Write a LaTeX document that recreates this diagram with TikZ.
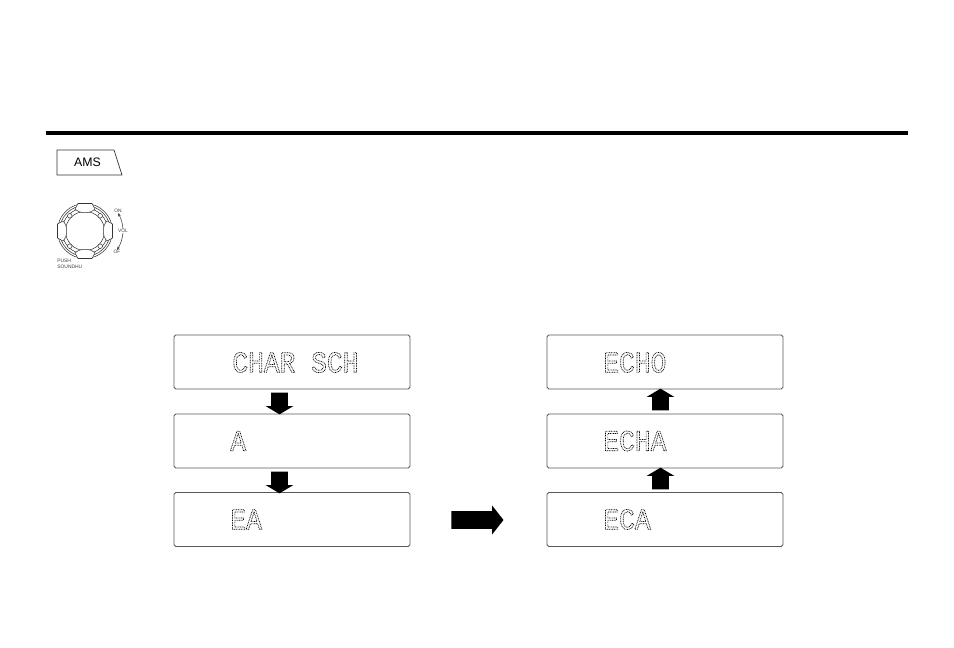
\documentclass[tikz,border=0pt]{standalone}
\usepackage{fontspec}
\setmainfont{Liberation Sans}
\newfontfamily\lcdfont[FakeStretch=0.88]{Liberation Mono}
\usetikzlibrary{shapes.arrows,arrows.meta}
% thin dotted outline for the display letters
\newcommand{\lcdtext}[1]{\special{pdf:code 1 Tr 0.4 w [0.5 0.45] 0 d}#1\special{pdf:code 0 Tr [] 0 d}}
\tikzset{
  lcdbox/.style = {draw=black!65, line width=0.5pt, rounded corners=1pt, minimum width=4.72cm, minimum height=1.08cm, inner sep=0pt},
  lcdchars/.style = {anchor=west, inner sep=0pt, font=\lcdfont\fontsize{17}{17}\selectfont, text=black},
  fatarrow/.style = {single arrow, draw=none, fill=black, inner sep=0.16cm, single arrow head extend=0.11cm, minimum height=0.36cm, single arrow tip angle=118},
  tinylabel/.style = {inner sep=0pt, font=\fontsize{2.8}{3.2}\selectfont, align=left, text=black!75},
  dialline/.style = {line width=0.3pt, draw=black!80},
}
\begin{document}
\begin{tikzpicture}[x=0.02cm, y=-0.02cm]
  \useasboundingbox (0,0) rectangle (954,648);

  % heading rule
  \draw[line width=1.8pt] (46,133) -- (908,133);

  % key tag
  \draw[line width=0.4pt, draw=black!80] (57,150) -- (114,150) -- (122,175) -- (57,175) -- cycle;
  \node[inner sep=0pt, font=\fontsize{7}{9}\selectfont] (amskey) at (87.5,162.5) {AMS};

  % dial with its four grips and four small dots
  \begin{scope}[shift={(85,231)}]
    \foreach \r in {27.5,25.5,23,19.5} \draw[dialline] (0,0) circle [radius=\r*0.02cm];
    \foreach \a in {0,90,180,270}
      \draw[dialline, fill=white, rotate=\a] (-7,-27.5) -- (-10,-22) .. controls (-5,-17) and (5,-17) .. (10,-22) -- (7,-27.5) -- cycle;
    \foreach \a in {45,135,225,315}
      \draw[dialline, fill=white] (\a:21.5) circle [radius=2.3*0.02cm];
  \end{scope}
  \node[tinylabel] (volon) at (118,211) {ON};
  \node[tinylabel] (vollabel) at (123,231) {VOL};
  \node[tinylabel] (voloff) at (117,252) {OF};
  \draw[dialline, -{Stealth[length=2pt,width=1.4pt]}] (vollabel.north) to[bend right=12] (volon.south);
  \draw[dialline, -{Stealth[length=2pt,width=1.4pt]}] (vollabel.south) to[bend left=12] (voloff.north);
  \node[tinylabel, anchor=north west] (pushlabel) at (57,259) {PUSH\\SOUNDHU};

  % left column of displays
  \node[lcdbox] (charsch) at (292,362) {};
  \node[lcdbox] (onechar) at (292,441) {};
  \node[lcdbox] (twochars) at (292,519.5) {};
  \node[lcdchars] (charschtext) at (232,362.5) {\lcdtext{CHAR SCH}};
  \node[lcdchars] (onechartext) at (230,441) {\lcdtext{A}};
  \node[lcdchars] (twocharstext) at (230,519.5) {\lcdtext{EA}};
  \node[fatarrow, shape border rotate=270] (downa) at (279.5,401) {};
  \node[fatarrow, shape border rotate=270] (downb) at (279.5,480) {};

  % right column of displays
  \node[lcdbox] (echo) at (665,362) {};
  \node[lcdbox] (echa) at (665,441) {};
  \node[lcdbox] (eca) at (665,519.5) {};
  \node[lcdchars] (echotext) at (603,362.5) {\lcdtext{ECHO}};
  \node[lcdchars] (echatext) at (603,441) {\lcdtext{ECHA}};
  \node[lcdchars] (ecatext) at (603,519.5) {\lcdtext{ECA}};
  \node[fatarrow, shape border rotate=90] (upa) at (660.5,402) {};
  \node[fatarrow, shape border rotate=90] (upb) at (660.5,481) {};

  % arrow between the columns
  \node[single arrow, draw=none, fill=black, inner sep=0.17cm, single arrow head extend=0.11cm, minimum height=1.04cm, single arrow tip angle=104] (across) at (474,520) {};
\end{tikzpicture}
\end{document}
